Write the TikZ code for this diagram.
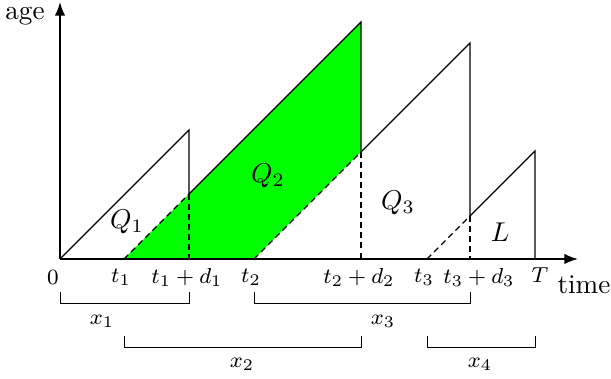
\documentclass[tikz,border=0pt]{standalone}
\usetikzlibrary{arrows.meta}
\begin{document}
\begin{tikzpicture}[x=0.368pt,y=-0.368pt,
  axis/.style={line width=0.6pt,-{Latex[length=5pt,width=3.8pt]}},
  saw/.style={line width=0.4pt},
  dsh/.style={line width=0.4pt,dash pattern=on 2.2pt off 1.5pt},
  tick/.style={font=\footnotesize,inner sep=0pt},
  area/.style={inner sep=0pt},
  brk/.style={line width=0.35pt}]
\useasboundingbox (0,0) rectangle (611,379);
% coordinates
\coordinate (O) at (60,259);
\coordinate (t1) at (124,259);
\coordinate (t2) at (254,259);
\coordinate (t3) at (427,259);
\coordinate (P1) at (189,130);
\coordinate (X1) at (189,194);
\coordinate (D1) at (189,259);
\coordinate (P2) at (361,22);
\coordinate (X2) at (361,152);
\coordinate (D2) at (361,259);
\coordinate (P3) at (470,43);
\coordinate (X3) at (470,216);
\coordinate (D3) at (470,259);
\coordinate (P4) at (535,151);
\coordinate (TT) at (535,259);
\coordinate (xend) at (578,259);
\coordinate (yend) at (60,2);
% green area
\fill[green] (t1) -- (P2) -- (X2) -- (t2) -- cycle;
% axes
\draw[axis] (O) -- (xend);
\draw[axis] (O) -- (yend);
% sawtooth
\draw[saw] (O) -- (P1) -- (X1);
\draw[dsh] (X1) -- (D1);
\draw[dsh] (t1) -- (X1);
\draw[saw] (X1) -- (P2) -- (X2);
\draw[dsh] (X2) -- (D2);
\draw[dsh] (t2) -- (X2);
\draw[saw] (X2) -- (P3) -- (X3);
\draw[dsh] (X3) -- (D3);
\draw[dsh] (t3) -- (X3);
\draw[saw] (X3) -- (P4) -- (TT);
% axis labels
\node[inner sep=0pt] (age) at (25,16) {age};
\node[inner sep=0pt] (time) at (584,285) {time};
% tick labels
\node[tick] (l0) at (53,277) {$0$};
\node[tick] (lt1) at (121,277) {$t_1$};
\node[tick] (lt1d) at (187,277) {$t_1+d_1$};
\node[tick] (lt2) at (251,277) {$t_2$};
\node[tick] (lt2d) at (359,277) {$t_2+d_2$};
\node[tick] (lt3) at (424,277) {$t_3$};
\node[tick] (lt3d) at (479,277) {$t_3+d_3$};
\node[tick] (lT) at (540,275) {$T$};
% area labels
\node[area] (Q1) at (127,222) {$Q_1$};
\node[area] (Q2) at (268,176) {$Q_2$};
\node[area] (Q3) at (398,203) {$Q_3$};
\node[area] (L) at (500,232) {$L$};
% brackets
\draw[brk] (60,292) -- (60,303) -- (189,303) -- (189,292);
\draw[brk] (254,292) -- (254,303) -- (470,303) -- (470,292);
\draw[brk] (124,336) -- (124,347) -- (361,347) -- (361,336);
\draw[brk] (427,336) -- (427,347) -- (535,347) -- (535,336);
\node[tick] (x1) at (102,321) {$x_1$};
\node[tick] (x3) at (383,321) {$x_3$};
\node[tick] (x2) at (242,364) {$x_2$};
\node[tick] (x4) at (480,364) {$x_4$};
\end{tikzpicture}
\end{document}
